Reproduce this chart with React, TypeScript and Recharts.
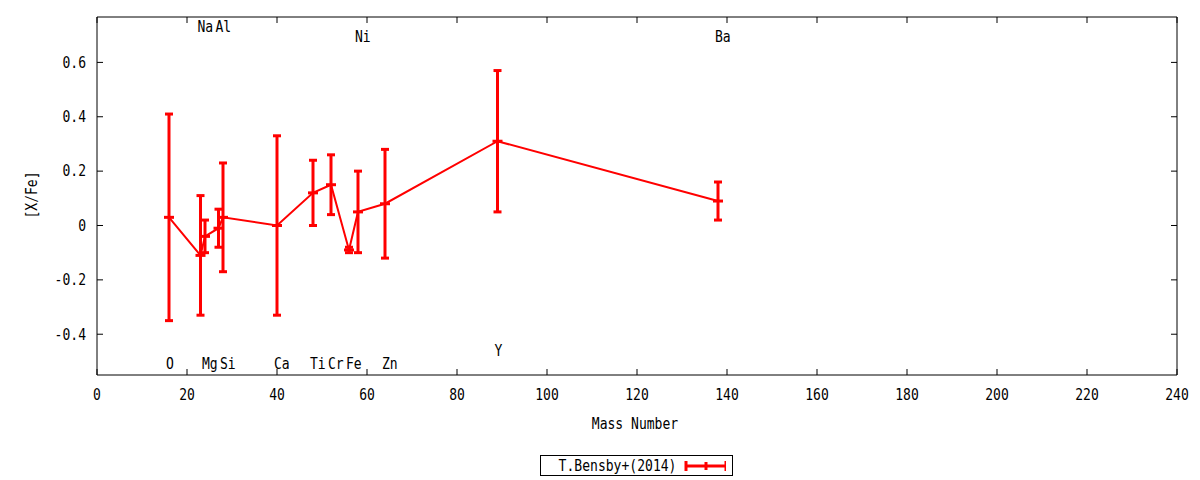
import {
  ComposedChart,
  Line,
  ErrorBar,
  Scatter,
  XAxis,
  YAxis,
  ReferenceArea,
} from "recharts";

// mass number of each measured element
const masses = [16, 23, 24, 27, 28, 40, 48, 52, 56, 58, 64, 89, 138];
// [X/Fe] abundance and its error
const abundances = [0.03, -0.11, -0.04, -0.01, 0.03, 0.0, 0.12, 0.15, -0.09, 0.05, 0.08, 0.31, 0.09];
const errors = [0.38, 0.22, 0.06, 0.07, 0.2, 0.33, 0.12, 0.11, 0.01, 0.15, 0.2, 0.26, 0.07];

// element labels and the height they are written at
const elementNames = ["O", "Na", "Mg", "Al", "Si", "Ca", "Ti", "Cr", "Fe", "Ni", "Zn", "Y", "Ba"];
const labelHeights = [-0.51, 0.733, -0.51, 0.733, -0.51, -0.51, -0.51, -0.51, -0.51, 0.696, -0.51, -0.46, 0.696];

const xTicks = [0, 20, 40, 60, 80, 100, 120, 140, 160, 180, 200, 220, 240];
const yTicks = [-0.4, -0.2, 0, 0.2, 0.4, 0.6];
const X_DOMAIN: [number, number] = [0, 240];
const Y_DOMAIN: [number, number] = [-0.55, 0.767];

const seriesName = "T.Bensby+(2014)";

const data = masses.map((mass, i) => ({
  mass,
  value: abundances[i],
  err: errors[i],
}));

const labelData = masses.map((mass, i) => ({
  mass,
  labelY: labelHeights[i],
  name: elementNames[i],
}));

const FONT = "'DejaVu Sans Mono', monospace";
const RED = "#ff0000";
const PLOT_LEFT = 97;
const PLOT_RIGHT = 1177;
const PLOT_TOP = 17;
const PLOT_BOTTOM = 375;
const TICK = 6;
const SQUEEZE = 0.87;

// gnuplot's text is a narrow, tall mono face: squeeze a bigger font sideways
const Txt = ({ x, y, anchor = "start", rotate = false, children }: any) => (
  <g transform={`translate(${x},${y}) ${rotate ? "rotate(-90)" : ""} scale(${SQUEEZE},1)`}>
    <text
      x={0}
      y={0}
      textAnchor={anchor}
      dominantBaseline="central"
      fontFamily={FONT}
      fontSize={15}
      fill="#000"
    >
      {children}
    </text>
  </g>
);

const XTick = (props: any) => {
  const { x, payload } = props;
  return (
    <g>
      <line x1={x} x2={x} y1={PLOT_BOTTOM} y2={PLOT_BOTTOM - TICK} stroke="#000" />
      <line x1={x} x2={x} y1={PLOT_TOP} y2={PLOT_TOP + TICK} stroke="#000" />
      <Txt x={x} y={PLOT_BOTTOM + 20} anchor="middle">
        {payload.value}
      </Txt>
    </g>
  );
};

const YTick = (props: any) => {
  const { y, payload } = props;
  return (
    <g>
      <line x1={PLOT_LEFT} x2={PLOT_LEFT + TICK} y1={y} y2={y} stroke="#000" />
      <line x1={PLOT_RIGHT} x2={PLOT_RIGHT - TICK} y1={y} y2={y} stroke="#000" />
      <Txt x={PLOT_LEFT - 11} y={y} anchor="end">
        {payload.value}
      </Txt>
    </g>
  );
};

const PointMark = (props: any) => {
  const { cx, cy } = props;
  if (cx == null || cy == null) return null;
  return <line x1={cx - 5} x2={cx + 5} y1={cy} y2={cy} stroke={RED} strokeWidth={3} />;
};

const ElementLabel = (props: any) => {
  const { cx, cy, payload } = props;
  return (
    <Txt x={cx - 3} y={cy}>
      {payload.name}
    </Txt>
  );
};

const App = () => {
  return (
    <div style={{ position: "absolute", left: 0, top: 0, width: 1200, height: 480, background: "#fff" }}>
      <ComposedChart
        width={1200}
        height={480}
        data={data}
        margin={{ top: 17, right: 23, bottom: 75, left: 37 }}
      >
        <XAxis
          dataKey="mass"
          type="number"
          domain={X_DOMAIN}
          ticks={xTicks}
          tick={<XTick />}
          tickLine={false}
          axisLine={false}
          height={30}
          interval={0}
        />
        <YAxis
          type="number"
          domain={Y_DOMAIN}
          ticks={yTicks}
          tick={<YTick />}
          tickLine={false}
          axisLine={false}
          width={60}
          interval={0}
          allowDataOverflow
        />
        <ReferenceArea
          x1={X_DOMAIN[0]}
          x2={X_DOMAIN[1]}
          y1={Y_DOMAIN[0]}
          y2={Y_DOMAIN[1]}
          fill="none"
          fillOpacity={0}
          stroke="#000"
          strokeWidth={1}
          ifOverflow="visible"
        />
        <Line
          dataKey="value"
          name={seriesName}
          stroke={RED}
          strokeWidth={2}
          dot={<PointMark />}
          activeDot={false}
          isAnimationActive={false}
        >
          <ErrorBar dataKey="err" direction="y" width={4} stroke={RED} strokeWidth={3} />
        </Line>
        <Scatter
          data={labelData}
          dataKey="labelY"
          shape={<ElementLabel />}
          isAnimationActive={false}
        />
        <Txt x={32} y={195} anchor="middle" rotate>
          [X/Fe]
        </Txt>
        <Txt x={635} y={424} anchor="middle">
          Mass Number
        </Txt>
      </ComposedChart>
      <div
        style={{
          position: "absolute",
          left: 540,
          top: 455,
          width: 191,
          height: 19,
          border: "1px solid #000",
          display: "flex",
          alignItems: "center",
          justifyContent: "flex-end",
          fontFamily: FONT,
          fontSize: 15,
          boxSizing: "content-box",
        }}
      >
        <span
          style={{
            display: "inline-block",
            marginRight: 8,
            transform: `scaleX(${SQUEEZE})`,
            transformOrigin: "right center",
            whiteSpace: "nowrap",
          }}
        >
          {seriesName}
        </span>
        <svg width={44} height={12} style={{ marginRight: 6 }}>
          <line x1={1} x2={43} y1={6} y2={6} stroke={RED} strokeWidth={3} />
          <line x1={2} x2={2} y1={1} y2={11} stroke={RED} strokeWidth={3} />
          <line x1={42} x2={42} y1={1} y2={11} stroke={RED} strokeWidth={3} />
          <line x1={22} x2={22} y1={2} y2={10} stroke={RED} strokeWidth={3} />
        </svg>
      </div>
    </div>
  );
};

export default App;
